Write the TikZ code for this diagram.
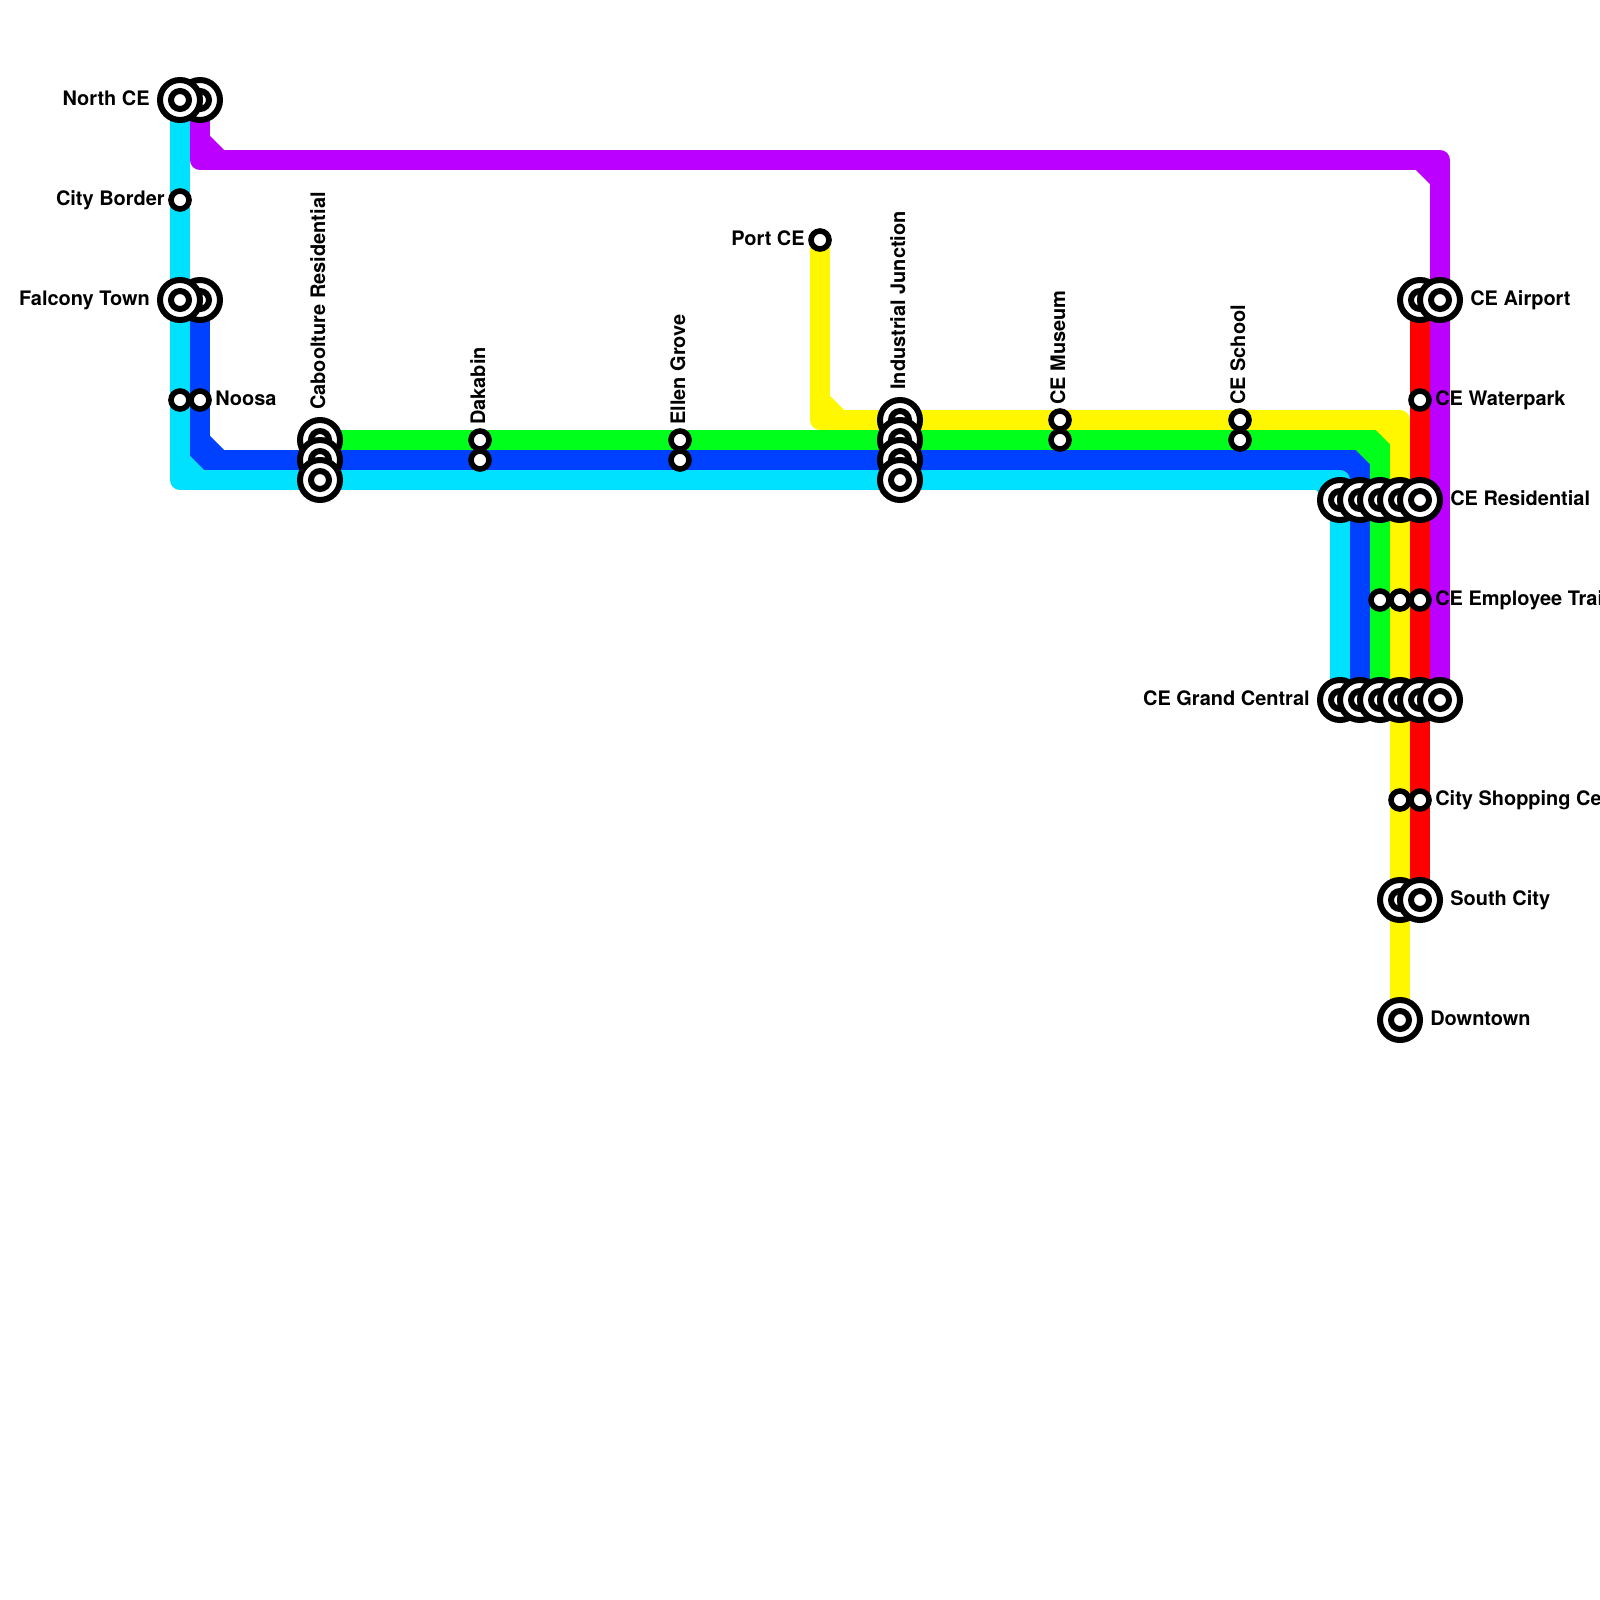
\documentclass[tikz,border=0pt]{standalone}
\usepackage{fontspec}
\setmainfont{TeX Gyre Heros}
\usepackage{xcolor}
\usetikzlibrary{calc,backgrounds}
\definecolor{linecyan}{HTML}{00E0FF}
\definecolor{lineblue}{HTML}{0040FF}
\definecolor{linegreen}{HTML}{00FF1A}
\definecolor{lineyellow}{HTML}{FFF700}
\definecolor{linered}{HTML}{FF0000}
\definecolor{linepurple}{HTML}{BB00FF}
\tikzset{
  metroline/.style={line width=5mm,line join=round},
  stop/.style={circle,draw=black,fill=white,line width=1.4mm,minimum size=4.5mm,inner sep=0pt,outer sep=0pt},
  hub/.style={circle,draw=black,fill=white,line width=1.5mm,minimum size=10mm,inner sep=0pt,outer sep=0pt,
    path picture={\draw[black,line width=1.5mm] (path picture bounding box.center) circle (2.25mm);}},
  stationlabel/.style={font=\bfseries\fontsize{14.2}{16}\selectfont,inner sep=0pt,black},
}
\begin{document}
\begin{tikzpicture}[x=5mm,y=-5mm]
  \useasboundingbox (0,0) rectangle (80,80);
  % interchange stations, later ones lie on top
  \foreach \nm/\x/\y in {northB/10/5,northA/9/5,falconyB/10/15,falconyA/9/15,
    cabooG/16/22,cabooB/16/23,cabooC/16/24,
    indY/45/21,indG/45/22,indB/45/23,indC/45/24,
    resC/67/25,resB/68/25,resG/69/25,resY/70/25,resR/71/25,
    airportR/71/15,airportP/72/15,
    gcC/67/35,gcB/68/35,gcG/69/35,gcY/70/35,gcR/71/35,gcP/72/35,
    southY/70/45,southR/71/45,downtownY/70/51}
    \node[hub] (\nm) at (\x,\y) {};
  % plain stations
  \foreach \nm/\x/\y in {borderC/9/10,noosaC/9/20,noosaB/10/20,dakabinG/24/22,dakabinB/24/23,
    ellenG/34/22,ellenB/34/23,portY/41/12,museumY/53/21,museumG/53/22,schoolY/62/21,schoolG/62/22,
    waterparkR/71/20,trainG/69/30,trainY/70/30,trainR/71/30,shopY/70/40,shopR/71/40}
    \node[stop] (\nm) at (\x,\y) {};
  % bends
  \foreach \nm/\x/\y in {purA/10/8,purB/72/8,bluA/10/23,bluB/68/23,cyaA/9/24,cyaB/67/24,
    greA/69/22,yelA/41/21,yelB/70/21}
    \coordinate (\nm) at (\x,\y);
  \begin{pgfonlayer}{background}
    \fill[white] (0,0) rectangle (80,80);
    \draw[metroline,lineblue] (falconyB.center) -- (bluA) -- (bluB) -- (gcB.center);
    \draw[metroline,lineblue] ($(bluA)+(0,-1)$) -- ($(bluA)+(1,0)$);
    \draw[metroline,lineblue] ($(bluB)+(-1,0)$) -- ($(bluB)+(0,1)$);
    \draw[metroline,linecyan] (northA.center) -- (cyaA) -- (cyaB) -- (gcC.center);
    \draw[metroline,linecyan] ($(cyaA)+(0,-1)$) -- ($(cyaA)+(1,0)$);
    \draw[metroline,linecyan] ($(cyaB)+(-1,0)$) -- ($(cyaB)+(0,1)$);
    \draw[metroline,linegreen] (cabooG.center) -- (greA) -- (gcG.center);
    \draw[metroline,linegreen] ($(greA)+(-1,0)$) -- ($(greA)+(0,1)$);
    \draw[metroline,lineyellow] (portY.center) -- (yelA) -- (yelB) -- (downtownY.center);
    \draw[metroline,lineyellow] ($(yelA)+(0,-1)$) -- ($(yelA)+(1,0)$);
    \draw[metroline,lineyellow] ($(yelB)+(-1,0)$) -- ($(yelB)+(0,1)$);
    \draw[metroline,linered] (airportR.center) -- (southR.center);
    \draw[metroline,linepurple] (northB.center) -- (purA) -- (purB) -- (gcP.center);
    \draw[metroline,linepurple] ($(purA)+(0,-1)$) -- ($(purA)+(1,0)$);
    \draw[metroline,linepurple] ($(purB)+(-1,0)$) -- ($(purB)+(0,1)$);
  \end{pgfonlayer}
  % labels
  \foreach \nm/\x/\y/\lab in {northL/7.5/5.25/North CE,borderL/8.25/10.25/City Border,falconyL/7.5/15.25/Falcony Town,
    portL/40.25/12.25/Port CE,gcL/65.5/35.25/CE Grand Central}
    \node[stationlabel,anchor=base east] (\nm) at (\x,\y) {\lab};
  \foreach \nm/\x/\y/\lab in {noosaL/10.75/20.25/Noosa,airportL/73.5/15.25/CE Airport,waterparkL/71.75/20.25/CE Waterpark,
    resL/72.5/25.25/CE Residential,trainL/71.75/30.25/CE Employee Trai,shopL/71.75/40.25/City Shopping Ce,
    southL/72.5/45.25/South City,downtownL/71.5/51.25/Downtown}
    \node[stationlabel,anchor=base west] (\nm) at (\x,\y) {\lab};
  \foreach \nm/\x/\y/\lab in {cabooL/16.25/20.5/Caboolture Residential,dakabinL/24.25/21.25/Dakabin,ellenL/34.25/21.25/Ellen Grove,
    indL/45.25/19.5/Industrial Junction,museumL/53.25/20.25/CE Museum,schoolL/62.25/20.25/CE School}
    \node[stationlabel,rotate=90,anchor=base west] (\nm) at (\x,\y) {\lab};
\end{tikzpicture}
\end{document}
